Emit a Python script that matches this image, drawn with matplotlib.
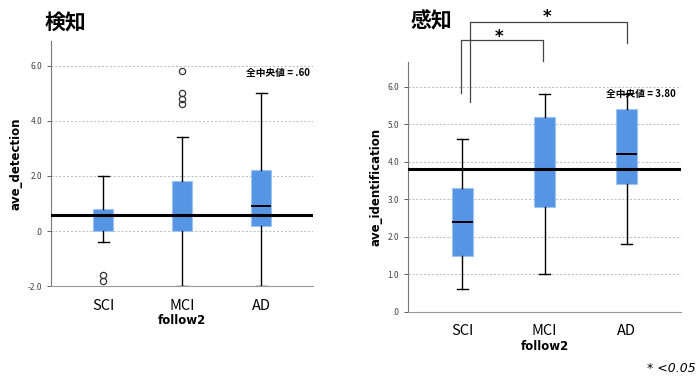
import numpy as np
import matplotlib.pyplot as plt
from matplotlib.ticker import FuncFormatter

plt.rcParams['font.family'] = ['Noto Sans CJK JP', 'DejaVu Sans']

groups = ['SCI', 'MCI', 'AD']

# detection (検知)
det_whislo = [-0.4, -2.0, -2.0]
det_q1 = [0.0, 0.0, 0.2]
det_med = [0.6, 0.6, 0.9]
det_q3 = [0.8, 1.8, 2.2]
det_whishi = [2.0, 3.4, 5.0]
det_fliers = [[-1.6, -1.8], [4.6, 4.8, 5.0, 5.8], []]
det_overall = 0.60

# identification (感知)
idf_whislo = [0.6, 1.0, 1.8]
idf_q1 = [1.5, 2.8, 3.4]
idf_med = [2.4, 3.8, 4.2]
idf_q3 = [3.3, 5.2, 5.4]
idf_whishi = [4.6, 5.8, 5.8]
idf_fliers = [[], [], []]
idf_overall = 3.80

box_color = '#5694e4'


def fmt(v, pos):
    s = '%.1f' % v
    if s.startswith('0.'):
        s = s[1:]
    return s


def draw_panel(ax, lo, q1, med, q3, hi, fl, overall, ylabel, ylim, yticks, overall_txt, txt_x):
    stats = []
    for i in range(len(groups)):
        stats.append(dict(whislo=lo[i], q1=q1[i], med=med[i], q3=q3[i], whishi=hi[i],
                          fliers=fl[i], label=groups[i]))
    ax.bxp(stats, positions=[1, 2, 3], widths=0.25, patch_artist=True,
           boxprops=dict(facecolor=box_color, edgecolor='#9cc3f2', linewidth=0.8),
           medianprops=dict(color='black', linewidth=1.4),
           whiskerprops=dict(color='black', linewidth=1.0),
           capprops=dict(color='black', linewidth=1.0),
           capwidths=0.14,
           flierprops=dict(marker='o', markerfacecolor='none', markeredgecolor='#333333',
                           markersize=4.5, markeredgewidth=0.9))
    ax.axhline(overall, color='black', linewidth=2.2, zorder=5)
    ax.set_xlim(0.34, 3.66)
    ax.set_ylim(*ylim)
    ax.set_yticks(yticks)
    ax.yaxis.set_major_formatter(FuncFormatter(fmt))
    ax.grid(axis='y', linestyle=(0, (2, 2)), color='#b8b8b8', linewidth=0.7)
    ax.set_axisbelow(True)
    for s in ['top', 'right']:
        ax.spines[s].set_visible(False)
    ax.spines['left'].set_color('#777777')
    ax.spines['bottom'].set_color('#999999')
    ax.spines['left'].set_linewidth(0.8)
    ax.spines['bottom'].set_linewidth(0.8)
    ax.tick_params(axis='y', labelsize=6, colors='#444444', length=3, width=0.6)
    ax.tick_params(axis='x', labelsize=10.5, length=0, pad=9)
    for lab in ax.get_xticklabels():
        lab.set_color('black')
    ax.set_ylabel(ylabel, fontsize=8.5, fontweight='bold', family=['DejaVu Sans'])
    ax.set_xlabel('follow2', fontsize=8.5, fontweight='bold', family=['DejaVu Sans'], labelpad=1)
    ax.text(txt_x, overall_txt, '全中央値 = ' + ('%.2f' % overall).lstrip('0'), fontsize=7,
            fontweight='bold', ha='right', va='center', zorder=6)


fig = plt.figure(figsize=(6.99, 3.79), dpi=100)
ax1 = fig.add_axes([0.073, 0.245, 0.375, 0.647])
ax2 = fig.add_axes([0.584, 0.177, 0.390, 0.660])

draw_panel(ax1, det_whislo, det_q1, det_med, det_q3, det_whishi, det_fliers, det_overall,
           'ave_detection', (-2.0, 6.9), [-2, 0, 2, 4, 6], 5.75, 3.62)
draw_panel(ax2, idf_whislo, idf_q1, idf_med, idf_q3, idf_whishi, idf_fliers, idf_overall,
           'ave_identification', (0.0, 6.67), [0, 1, 2, 3, 4, 5, 6], 5.8, 3.60)

fig.text(0.063, 0.940, '検知', fontsize=15, fontweight='bold', ha='left', va='center')
fig.text(0.588, 0.945, '感知', fontsize=15, fontweight='bold', ha='left', va='center')

# significance brackets
br_col = '#444444'
ax2.plot([0.98, 0.98, 1.98, 1.98], [5.85, 7.25, 7.25, 6.7], color=br_col, lw=0.9, clip_on=False)
ax2.text(1.45, 7.33, '*', fontsize=12, fontweight='bold', ha='center', va='center',
         family=['DejaVu Sans'])
ax2.plot([1.09, 1.09, 3.01, 3.01], [5.6, 7.73, 7.73, 7.17], color=br_col, lw=0.9, clip_on=False)
ax2.text(2.03, 7.87, '*', fontsize=12, fontweight='bold', ha='center', va='center',
         family=['DejaVu Sans'])

fig.text(0.995, 0.027, '* <0.05', fontsize=9, style='italic', ha='right', va='center',
         family=['DejaVu Sans'])

fig.savefig('out.png', dpi=100)
